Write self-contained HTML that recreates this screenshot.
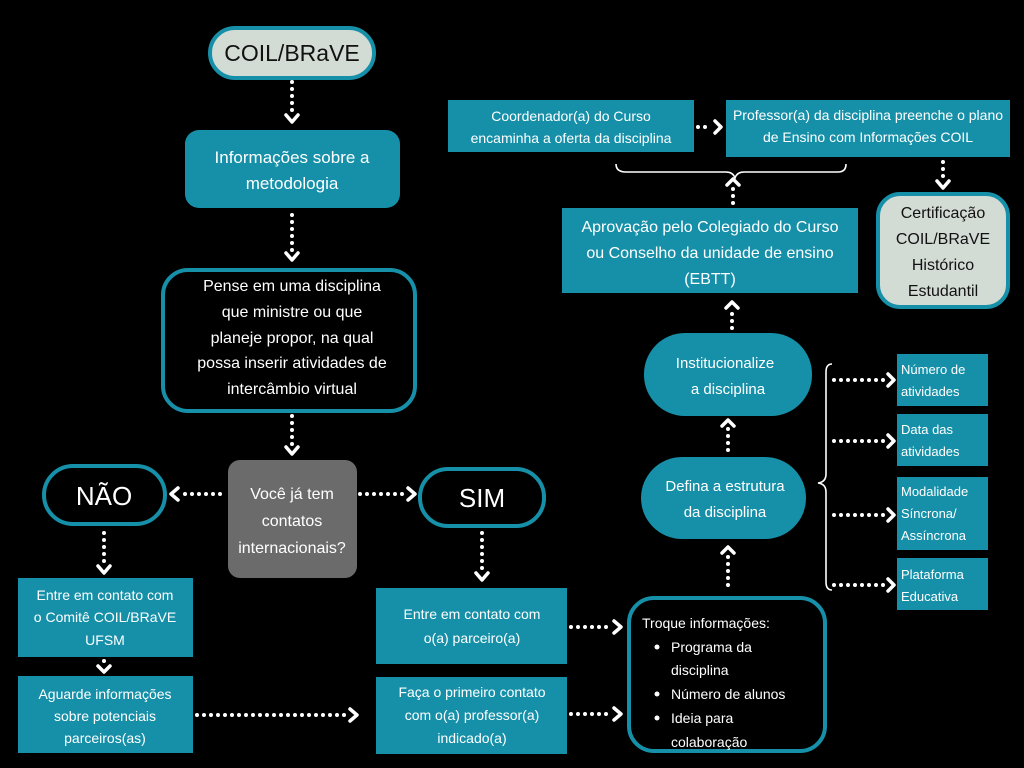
<!DOCTYPE html>
<html><head><meta charset="utf-8"><style>
html,body{margin:0;padding:0;background:#000;}
svg{display:block;}
text{font-family:"Liberation Sans",sans-serif;fill:#fff;text-anchor:middle;}
.d{stroke:#fff;stroke-width:4;stroke-linecap:round;stroke-dasharray:0 7;fill:none;}
.h{stroke:#fff;stroke-width:3.5;fill:none;stroke-linecap:round;stroke-linejoin:round;}
.t{fill:#1690a8;}
</style></head><body>
<svg width="1024" height="768" viewBox="0 0 1024 768" xmlns="http://www.w3.org/2000/svg">
<rect width="1024" height="768" fill="#000"/>

<rect x="210" y="28" width="164" height="50" rx="25" fill="#d3dbd5" stroke="#1690a8" stroke-width="4"/>
<text x="292" y="61" font-size="23" style="fill:#111">COIL/BRaVE</text>
<line class="d" x1="292" y1="82" x2="292" y2="116"/><polyline class="h" points="286,115 292,122 298,115"/>

<rect class="t" x="185" y="130" width="215" height="78" rx="14"/>
<text x="292" y="163" font-size="17">Informações sobre a</text>
<text x="292" y="189" font-size="17">metodologia</text>
<line class="d" x1="292" y1="215" x2="292" y2="252"/><polyline class="h" points="286,253 292,260 298,253"/>

<rect x="163" y="270" width="252" height="141" rx="25" fill="#000" stroke="#1690a8" stroke-width="4"/>
<g font-size="16">
<text x="292" y="291">Pense em uma disciplina</text>
<text x="292" y="317">que ministre ou que</text>
<text x="292" y="343">planeje propor, na qual</text>
<text x="292" y="368">possa inserir atividades de</text>
<text x="292" y="394">intercâmbio virtual</text>
</g>
<line class="d" x1="292" y1="416" x2="292" y2="446"/><polyline class="h" points="286,447 292,454 298,447"/>

<rect x="228" y="460" width="129" height="118" rx="12" fill="#6b6b6b"/>
<g font-size="16"><text x="292" y="499">Você já tem</text><text x="292" y="526">contatos</text><text x="292" y="553">internacionais?</text></g>

<rect x="44" y="466" width="121" height="58" rx="29" fill="#000" stroke="#1690a8" stroke-width="4"/>
<text x="104" y="505" font-size="26">NÃO</text>
<line class="d" x1="220" y1="494" x2="180" y2="494"/><polyline class="h" points="178,488 171,494 178,500"/>
<rect x="420" y="469" width="124" height="57" rx="28" fill="#000" stroke="#1690a8" stroke-width="4"/>
<text x="482" y="507" font-size="26">SIM</text>
<line class="d" x1="360" y1="494" x2="404" y2="494"/><polyline class="h" points="408,488 415,494 408,500"/>

<line class="d" x1="104" y1="533" x2="104" y2="565"/><polyline class="h" points="98,566 104,573 110,566"/>
<rect class="t" x="18" y="578" width="175" height="79"/>
<g font-size="14"><text x="105" y="600">Entre em contato com</text><text x="105" y="622">o Comitê COIL/BRaVE</text><text x="105" y="645">UFSM</text></g>
<line class="d" x1="104" y1="661" x2="104" y2="663"/><polyline class="h" points="98,666 104,672 110,666"/>
<rect class="t" x="18" y="676" width="175" height="77"/>
<g font-size="14"><text x="105" y="699">Aguarde informações</text><text x="105" y="721">sobre  potenciais</text><text x="105" y="743">parceiros(as)</text></g>
<line class="d" x1="197" y1="715" x2="347" y2="715"/><polyline class="h" points="350,709 357,715 350,721"/>

<line class="d" x1="482" y1="533" x2="482" y2="572"/><polyline class="h" points="476,573 482,580 488,573"/>
<rect class="t" x="376" y="588" width="191" height="76"/>
<g font-size="14"><text x="472" y="619">Entre em contato com</text><text x="472" y="643">o(a) parceiro(a)</text></g>
<rect class="t" x="376" y="677" width="191" height="77"/>
<g font-size="14"><text x="472" y="697">Faça o primeiro contato</text><text x="472" y="720">com o(a) professor(a)</text><text x="472" y="743">indicado(a)</text></g>
<line class="d" x1="571" y1="627" x2="611" y2="627"/><polyline class="h" points="614,621 621,627 614,633"/>
<line class="d" x1="571" y1="714" x2="611" y2="714"/><polyline class="h" points="614,708 621,714 614,720"/>

<rect x="629" y="598" width="196" height="153" rx="25" fill="#000" stroke="#1690a8" stroke-width="4"/>
<g font-size="14">
<text x="642" y="628" style="text-anchor:start">Troque informações:</text>
<text x="671" y="652" style="text-anchor:start">Programa da</text>
<text x="671" y="675" style="text-anchor:start">disciplina</text>
<text x="671" y="699" style="text-anchor:start">Número de alunos</text>
<text x="671" y="723" style="text-anchor:start">Ideia para</text>
<text x="671" y="747" style="text-anchor:start">colaboração</text>
</g>
<circle cx="657" cy="647" r="2.5" fill="#fff"/><circle cx="657" cy="694" r="2.5" fill="#fff"/><circle cx="657" cy="718" r="2.5" fill="#fff"/>

<line class="d" x1="728" y1="585" x2="728" y2="555"/><polyline class="h" points="722,553 728,547 734,553"/>
<rect class="t" x="641" y="457" width="165" height="82" rx="41"/>
<g font-size="15"><text x="725" y="491">Defina a estrutura</text><text x="725" y="517">da disciplina</text></g>
<line class="d" x1="728" y1="450" x2="728" y2="428"/><polyline class="h" points="722,426 728,420 734,426"/>
<rect class="t" x="644" y="333" width="168" height="83" rx="41"/>
<g font-size="15"><text x="725" y="368">Institucionalize</text><text x="728" y="394">a disciplina</text></g>
<line class="d" x1="732" y1="328" x2="732" y2="310"/><polyline class="h" points="726,308 732,302 738,308"/>

<rect class="t" x="562" y="208" width="296" height="85"/>
<g font-size="16"><text x="710" y="232">Aprovação pelo Colegiado do Curso</text><text x="710" y="258">ou  Conselho da unidade de ensino</text><text x="710" y="284">(EBTT)</text></g>
<line class="d" x1="733" y1="203" x2="733" y2="186"/><polyline class="h" points="727,185 733,179 739,185"/>
<path d="M616,164 Q616,172 626,172 L726,172 Q733,172 735,178 Q737,172 744,172 L838,172 Q846,172 846,164" stroke="#fff" stroke-width="1.6" fill="none"/>

<rect class="t" x="448" y="100" width="246" height="52"/>
<g font-size="14"><text x="571" y="121">Coordenador(a) do Curso</text><text x="571" y="143">encaminha a oferta da disciplina</text></g>
<line class="d" x1="698" y1="127" x2="712" y2="127"/><polyline class="h" points="715,121 721,127 715,133"/>
<rect class="t" x="726" y="100" width="284" height="57"/>
<g font-size="14"><text x="868" y="120">Professor(a) da disciplina preenche o plano</text><text x="868" y="142">de Ensino com Informações COIL</text></g>
<line class="d" x1="943" y1="162" x2="943" y2="180"/><polyline class="h" points="937,181 943,188 949,181"/>

<rect x="878" y="194" width="130" height="113" rx="22" fill="#d3dbd5" stroke="#1690a8" stroke-width="4"/>
<g font-size="16"><text x="943" y="218" style="fill:#111">Certificação</text><text x="943" y="244" style="fill:#111">COIL/BRaVE</text><text x="943" y="270" style="fill:#111">Histórico</text><text x="943" y="296" style="fill:#111">Estudantil</text></g>

<path d="M832,364 Q826,364 826,372 L826,474 Q826,482 818,483 Q826,484 826,492 L826,582 Q826,590 832,590" stroke="#fff" stroke-width="1.6" fill="none"/>
<line class="d" x1="834" y1="380" x2="884" y2="380"/><polyline class="h" points="888,374 894,380 888,386"/>
<line class="d" x1="834" y1="441" x2="884" y2="441"/><polyline class="h" points="888,435 894,441 888,447"/>
<line class="d" x1="834" y1="515" x2="884" y2="515"/><polyline class="h" points="888,509 894,515 888,521"/>
<line class="d" x1="834" y1="585" x2="884" y2="585"/><polyline class="h" points="888,579 894,585 888,591"/>
<g font-size="13">
<rect class="t" x="897" y="354" width="91" height="52"/>
<text x="901" y="374" style="text-anchor:start">Número de</text><text x="901" y="396" style="text-anchor:start">atividades</text>
<rect class="t" x="897" y="414" width="91" height="52"/>
<text x="901" y="434" style="text-anchor:start">Data das</text><text x="901" y="456" style="text-anchor:start">atividades</text>
<rect class="t" x="897" y="477" width="91" height="73"/>
<text x="901" y="496" style="text-anchor:start">Modalidade</text><text x="901" y="518" style="text-anchor:start">Síncrona/</text><text x="901" y="540" style="text-anchor:start">Assíncrona</text>
<rect class="t" x="897" y="558" width="91" height="52"/>
<text x="901" y="579" style="text-anchor:start">Plataforma</text><text x="901" y="601" style="text-anchor:start">Educativa</text>
</g>
</svg>
</body></html>
